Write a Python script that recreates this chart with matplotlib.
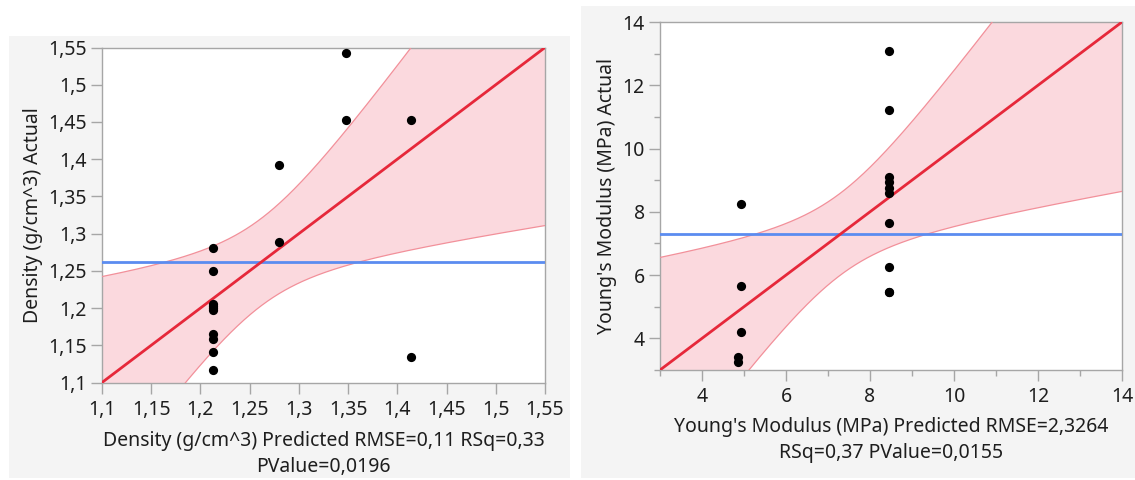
import numpy as np
import matplotlib
matplotlib.use("Agg")
import matplotlib.pyplot as plt
from matplotlib.patches import Rectangle

plt.rcParams['font.family'] = ['Noto Sans', 'DejaVu Sans']

# ---------------- data ----------------
density_pred = [1.2132, 1.2132, 1.2132, 1.2132, 1.2132, 1.2132, 1.2132, 1.2132,
                1.2132, 1.2132, 1.28, 1.28, 1.3475, 1.3475, 1.4139, 1.4139]
density_actual = [1.2811, 1.2502, 1.2057, 1.2030, 1.2004, 1.1977, 1.1651, 1.1580,
                  1.1414, 1.1168, 1.3926, 1.2887, 1.5422, 1.4522, 1.4522, 1.1347]

young_pred = [4.85, 4.85, 4.93, 4.93, 4.93, 8.45, 8.45, 8.45, 8.45, 8.45,
              8.45, 8.45, 8.45, 8.45, 8.45]
young_actual = [3.41, 3.25, 8.254, 5.644, 4.21, 13.09, 11.21, 9.107, 8.93, 8.76,
                8.60, 7.635, 6.245, 5.455, 5.455]

density_ticks = [1.1, 1.15, 1.2, 1.25, 1.3, 1.35, 1.4, 1.45, 1.5, 1.55]
density_ticklabels = ['1,1', '1,15', '1,2', '1,25', '1,3', '1,35', '1,4', '1,45', '1,5', '1,55']
density_lim = [1.1, 1.55]

young_ticks = [4, 6, 8, 10, 12, 14]
young_ticklabels = ['4', '6', '8', '10', '12', '14']
young_minor = [3, 5, 7, 9, 11, 13]
young_lim = [3, 14]

density_xlabel = "Density (g/cm^3) Predicted RMSE=0,11 RSq=0,33\nPValue=0,0196"
density_ylabel = "Density (g/cm^3) Actual"
young_xlabel = "Young's Modulus (MPa) Predicted RMSE=2,3264\nRSq=0,37 PValue=0,0155"
young_ylabel = "Young's Modulus (MPa) Actual"

# two-sided 95% t critical values for the error degrees of freedom (n-2)
T_CRIT = {13: 2.1604, 14: 2.1448}

# ---------------- styles ----------------
W, H = 1135, 480
PANEL = '#f4f4f4'
SPINE = '#a6a6a6'
RED = '#e6283a'
BAND_FILL = '#fbd9de'
BAND_EDGE = '#f2909a'
BLUE = '#5b8cf0'
TXT = '#1e1e1e'
TICK_FS = 14
LABEL_FS = 14

fig = plt.figure(figsize=(W / 100, H / 100), dpi=100)
fig.patch.set_facecolor('white')


def px_rect(x0, y0, x1, y1):
    """figure fraction rect from pixel box (top-left origin)."""
    return [x0 / W, (H - y1) / H, (x1 - x0) / W, (y1 - y0) / H]


# grey panels
for (x0, y0, x1, y1) in [(9, 36, 570, 478), (581, 6, 1135, 478)]:
    l, b, w, h = px_rect(x0, y0, x1, y1)
    fig.patches.append(Rectangle((l, b), w, h, transform=fig.transFigure,
                                 facecolor=PANEL, edgecolor='none', zorder=-10))


def draw(ax, pred, actual, lim, xlabel, ylabel, xpad):
    pred = np.asarray(pred)
    actual = np.asarray(actual)
    n = len(pred)
    ybar = actual.mean()
    sse = np.sum((actual - pred) ** 2)
    s = np.sqrt(sse / (n - 2))
    ssr = np.sum((pred - pred.mean()) ** 2)
    t = T_CRIT[n - 2]
    xs = np.linspace(lim[0], lim[1], 400)
    half = t * s * np.sqrt(1.0 / n + (xs - ybar) ** 2 / ssr)
    lo, hi = xs - half, xs + half

    ax.fill_between(xs, lo, hi, color=BAND_FILL, lw=0, zorder=2)
    ax.plot(xs, lo, color=BAND_EDGE, lw=0.9, zorder=3)
    ax.plot(xs, hi, color=BAND_EDGE, lw=0.9, zorder=3)
    ax.axhline(ybar, color=BLUE, lw=2.0, zorder=4)
    ax.plot(lim, lim, color=RED, lw=2.0, zorder=5)
    ax.scatter(pred, actual, s=44, color='black', zorder=6, linewidths=0)

    ax.set_xlim(lim)
    ax.set_ylim(lim)
    for sp in ax.spines.values():
        sp.set_color(SPINE)
        sp.set_linewidth(1.0)
    ax.set_facecolor('white')
    ax.tick_params(which='major', direction='out', length=8, width=1, color=SPINE,
                   labelsize=TICK_FS, labelcolor=TXT, pad=3)
    ax.tick_params(axis='x', which='major', pad=4.5)
    ax.tick_params(which='minor', direction='out', length=4, width=1, color=SPINE)
    ax.set_xlabel(xlabel, fontsize=LABEL_FS, color=TXT, labelpad=xpad, linespacing=1.4)
    ax.set_ylabel(ylabel, fontsize=LABEL_FS, color=TXT, labelpad=4)


ax1 = fig.add_axes(px_rect(102, 47.5, 545, 382.5))
draw(ax1, density_pred, density_actual, density_lim, density_xlabel, density_ylabel, 8)
ax1.set_xticks(density_ticks)
ax1.set_xticklabels(density_ticklabels)
ax1.set_yticks(density_ticks)
ax1.set_yticklabels(density_ticklabels)

ax2 = fig.add_axes(px_rect(660, 22, 1122, 370))
draw(ax2, young_pred, young_actual, young_lim, young_xlabel, young_ylabel, 7)
ax2.set_xticks(young_ticks)
ax2.set_xticklabels(young_ticklabels)
ax2.set_yticks(young_ticks)
ax2.set_yticklabels(young_ticklabels)
ax2.set_xticks(young_minor, minor=True)
ax2.set_yticks(young_minor, minor=True)

fig.savefig('out.png', dpi=100, facecolor='white')
